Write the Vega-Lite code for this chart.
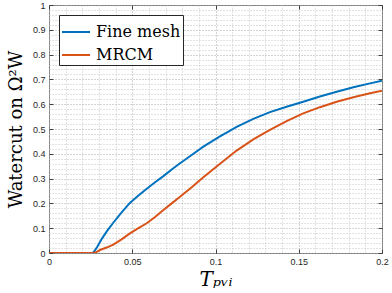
{
  "$schema": "https://vega.github.io/schema/vega-lite/v6.json",
  "autosize": "none",
  "width": 333,
  "height": 248,
  "padding": {"left": 49, "top": 5, "right": 10, "bottom": 40},
  "background": "white",
  "config": {
    "view": {"stroke": "#7a7a7a", "strokeWidth": 1},
    "axis": {
      "labelFont": "Liberation Sans",
      "labelFontSize": 9,
      "labelColor": "#262626",
      "titleFont": "DejaVu Serif",
      "titleFontWeight": "normal",
      "titleColor": "#000000",
      "domain": false,
      "tickColor": "#404040",
      "labelOverlap": false,
      "labelBound": false,
      "labelFlush": false
    }
  },
  "data": {
    "values": [
      {"t": 0, "w": 0, "s": "Fine mesh"},
      {"t": 0.02, "w": 0, "s": "Fine mesh"},
      {"t": 0.026, "w": 0, "s": "Fine mesh"},
      {"t": 0.027, "w": 0.005, "s": "Fine mesh"},
      {"t": 0.029, "w": 0.025, "s": "Fine mesh"},
      {"t": 0.032, "w": 0.06, "s": "Fine mesh"},
      {"t": 0.035, "w": 0.09, "s": "Fine mesh"},
      {"t": 0.0386, "w": 0.122, "s": "Fine mesh"},
      {"t": 0.0435, "w": 0.163, "s": "Fine mesh"},
      {"t": 0.0486, "w": 0.202, "s": "Fine mesh"},
      {"t": 0.0537, "w": 0.232, "s": "Fine mesh"},
      {"t": 0.0587, "w": 0.259, "s": "Fine mesh"},
      {"t": 0.0637, "w": 0.285, "s": "Fine mesh"},
      {"t": 0.0687, "w": 0.31, "s": "Fine mesh"},
      {"t": 0.0737, "w": 0.337, "s": "Fine mesh"},
      {"t": 0.0787, "w": 0.362, "s": "Fine mesh"},
      {"t": 0.0857, "w": 0.395, "s": "Fine mesh"},
      {"t": 0.0927, "w": 0.429, "s": "Fine mesh"},
      {"t": 0.1027, "w": 0.47, "s": "Fine mesh"},
      {"t": 0.1127, "w": 0.509, "s": "Fine mesh"},
      {"t": 0.1227, "w": 0.541, "s": "Fine mesh"},
      {"t": 0.1327, "w": 0.568, "s": "Fine mesh"},
      {"t": 0.1427, "w": 0.59, "s": "Fine mesh"},
      {"t": 0.1527, "w": 0.61, "s": "Fine mesh"},
      {"t": 0.1627, "w": 0.631, "s": "Fine mesh"},
      {"t": 0.1728, "w": 0.65, "s": "Fine mesh"},
      {"t": 0.1828, "w": 0.668, "s": "Fine mesh"},
      {"t": 0.1928, "w": 0.684, "s": "Fine mesh"},
      {"t": 0.2, "w": 0.695, "s": "Fine mesh"},
      {"t": 0, "w": 0, "s": "MRCM"},
      {"t": 0.026, "w": 0, "s": "MRCM"},
      {"t": 0.028, "w": 0.002, "s": "MRCM"},
      {"t": 0.0306, "w": 0.012, "s": "MRCM"},
      {"t": 0.0346, "w": 0.022, "s": "MRCM"},
      {"t": 0.0386, "w": 0.034, "s": "MRCM"},
      {"t": 0.0436, "w": 0.055, "s": "MRCM"},
      {"t": 0.0486, "w": 0.079, "s": "MRCM"},
      {"t": 0.0537, "w": 0.1, "s": "MRCM"},
      {"t": 0.0587, "w": 0.12, "s": "MRCM"},
      {"t": 0.0637, "w": 0.145, "s": "MRCM"},
      {"t": 0.0687, "w": 0.173, "s": "MRCM"},
      {"t": 0.0737, "w": 0.2, "s": "MRCM"},
      {"t": 0.0787, "w": 0.227, "s": "MRCM"},
      {"t": 0.0857, "w": 0.265, "s": "MRCM"},
      {"t": 0.0927, "w": 0.305, "s": "MRCM"},
      {"t": 0.1027, "w": 0.36, "s": "MRCM"},
      {"t": 0.1127, "w": 0.413, "s": "MRCM"},
      {"t": 0.1227, "w": 0.458, "s": "MRCM"},
      {"t": 0.1327, "w": 0.496, "s": "MRCM"},
      {"t": 0.1427, "w": 0.532, "s": "MRCM"},
      {"t": 0.1527, "w": 0.563, "s": "MRCM"},
      {"t": 0.1627, "w": 0.588, "s": "MRCM"},
      {"t": 0.1728, "w": 0.61, "s": "MRCM"},
      {"t": 0.1828, "w": 0.628, "s": "MRCM"},
      {"t": 0.1928, "w": 0.644, "s": "MRCM"},
      {"t": 0.2, "w": 0.654, "s": "MRCM"}
    ]
  },
  "layer": [
    {
      "mark": {"type": "line", "strokeWidth": 2, "clip": true},
      "encoding": {
        "x": {
          "field": "t", "type": "quantitative",
          "scale": {"domain": [0, 0.2], "nice": false, "zero": false},
          "axis": {
            "orient": "bottom",
            "title": "Tₚᵥᵢ",
            "titleFontStyle": "italic",
            "titleFontSize": 20,
            "titlePadding": 3,
            "values": [0,0.01,0.02,0.03,0.04,0.05,0.06,0.07,0.08,0.09,0.1,0.11,0.12,0.13,0.14,0.15,0.16,0.17,0.18,0.19,0.2],
            "labelExpr": "abs(datum.value*20-round(datum.value*20))<1e-6 ? format(datum.value, '.2~f') : ''",
            "tickOpacity": {"condition": {"test": "abs(datum.value*20-round(datum.value*20))<1e-6", "value": 1}, "value": 0},
            "tickSize": -4,
            "labelPadding": 8,
            "grid": true,
            "gridDash": [1, 2],
            "gridColor": {"condition": {"test": "abs(datum.value*20-round(datum.value*20))<1e-6", "value": "#a8a8a8"}, "value": "#c4c4c4"},
            "gridWidth": 1
          }
        },
        "y": {
          "field": "w", "type": "quantitative",
          "scale": {"domain": [0, 1], "nice": false},
          "axis": {
            "orient": "left",
            "title": "Watercut on Ω²W",
            "titleFontSize": 18,
            "titlePadding": 7,
            "values": [0,0.02,0.04,0.06,0.08,0.1,0.12,0.14,0.16,0.18,0.2,0.22,0.24,0.26,0.28,0.3,0.32,0.34,0.36,0.38,0.4,0.42,0.44,0.46,0.48,0.5,0.52,0.54,0.56,0.58,0.6,0.62,0.64,0.66,0.68,0.7,0.72,0.74,0.76,0.78,0.8,0.82,0.84,0.86,0.88,0.9,0.92,0.94,0.96,0.98,1],
            "labelExpr": "abs(datum.value*10-round(datum.value*10))<1e-6 ? format(datum.value, '.1~f') : ''",
            "tickOpacity": {"condition": {"test": "abs(datum.value*10-round(datum.value*10))<1e-6", "value": 1}, "value": 0},
            "tickSize": -4,
            "labelPadding": 8,
            "grid": true,
            "gridDash": [1, 2],
            "gridColor": {"condition": {"test": "abs(datum.value*10-round(datum.value*10))<1e-6", "value": "#a8a8a8"}, "value": "#c4c4c4"},
            "gridWidth": 1
          }
        },
        "color": {
          "field": "s", "type": "nominal",
          "scale": {"domain": ["Fine mesh", "MRCM"], "range": ["#0072BD", "#D95319"]},
          "legend": {
            "title": null,
            "orient": "none",
            "legendX": 10,
            "legendY": 10,
            "fillColor": "white",
            "strokeColor": "#262626",
            "padding": 2,
            "symbolType": "stroke",
            "symbolSize": 784,
            "symbolStrokeWidth": 2,
            "labelFont": "DejaVu Serif",
            "labelFontSize": 16,
            "labelColor": "#000000",
            "labelOffset": 5,
            "rowPadding": -6,
            "labelLimit": 300
          }
        }
      }
    },
    {
      "mark": {"type": "line", "opacity": 0},
      "encoding": {
        "x": {
          "field": "t", "type": "quantitative",
          "axis": {"orient": "top", "title": null, "labels": false, "grid": false, "values": [0,0.05,0.1,0.15,0.2], "tickSize": -4}
        },
        "y": {
          "field": "w", "type": "quantitative",
          "axis": {"orient": "right", "title": null, "labels": false, "grid": false, "values": [0,0.1,0.2,0.3,0.4,0.5,0.6,0.7,0.8,0.9,1], "tickSize": -4}
        }
      }
    }
  ],
  "resolve": {"axis": {"x": "independent", "y": "independent"}}
}
